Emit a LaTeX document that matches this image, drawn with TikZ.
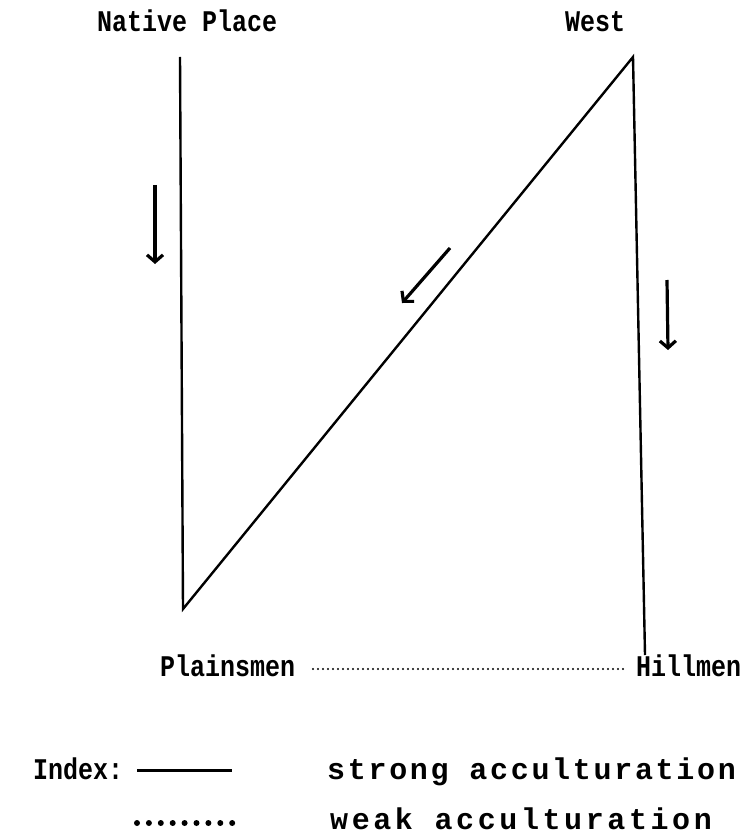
\documentclass[tikz,border=0pt]{standalone}
\usepackage{graphicx}
\usepackage{fontspec}
\setmainfont{Liberation Mono}
\usetikzlibrary{arrows.meta}
\newcommand{\tall}[1]{\scalebox{1}[1.2]{#1}}
\begin{document}
\begin{tikzpicture}[x=1pt,y=-1pt,
  lbl/.style={font=\fontsize{25}{28}\selectfont\bfseries, inner sep=0pt, anchor=base west},
  legendlbl/.style={font=\fontsize{30}{32}\selectfont\bfseries, inner sep=0pt, anchor=base west},
  strongln/.style={line width=2.4pt},
  weakln/.style={line width=2.3pt, line cap=round, dash pattern=on 0pt off 5pt},
  movearrow/.style={line width=3.2pt, -{Straight Barb[length=7pt,width=16pt,line width=3.2pt]}},
  bigdots/.style={line width=6pt, line cap=round, dash pattern=on 0pt off 11.9pt}]
\useasboundingbox (0,0) rectangle (743,834);
% labels
\node[lbl] (np) at (97,32) {\tall{Native Place}};
\node[lbl] (west) at (565,32) {\tall{West}};
\node[lbl] (pl) at (160,676) {\tall{Plainsmen}};
\node[lbl] (hm) at (636,676) {\tall{Hillmen}};
% vertices
\coordinate (a) at (180,57);
\coordinate (b) at (183,609);
\coordinate (c) at (633,57);
\coordinate (d) at (645,655);
\draw[strongln, line join=miter] (a) -- (b) -- (c) -- (d);
% weak link
\coordinate (w1) at (313,669);
\coordinate (w2) at (625,669);
\draw[weakln] (w1) -- (w2);
% movement arrows
\coordinate (l1) at (155,185);
\coordinate (l2) at (155,264);
\draw[movearrow] (l1) -- (l2);
\coordinate (m1) at (450,248);
\coordinate (m2) at (402,303);
\draw[movearrow] (m1) -- (m2);
\coordinate (r1) at (667,280);
\coordinate (r2) at (668,350);
\draw[movearrow] (r1) -- (r2);
% legend
\node[lbl] (idx) at (33,779) {\tall{Index:}};
\node[legendlbl] (st) at (327,779) {\addfontfeatures{LetterSpace=9}strong acculturation};
\node[legendlbl] (wk) at (330,829) {\addfontfeatures{LetterSpace=12}weak acculturation};
\coordinate (s1) at (137,770);
\coordinate (s2) at (232,770);
\draw[line width=3pt] (s1) -- (s2);
\coordinate (d1) at (137,823);
\coordinate (d2) at (233,823);
\draw[bigdots] (d1) -- (d2);
\end{tikzpicture}
\end{document}
